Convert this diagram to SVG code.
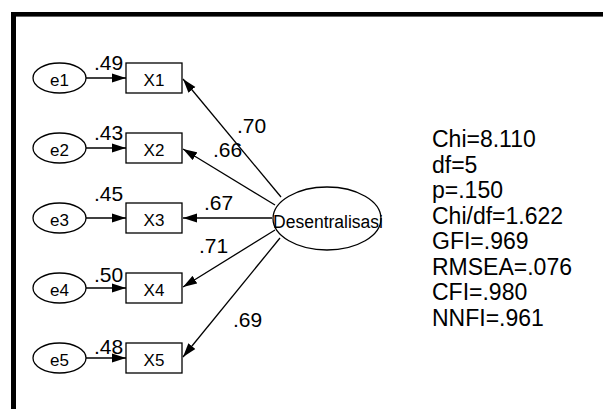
<svg xmlns="http://www.w3.org/2000/svg" width="603" height="409" viewBox="0 0 603 409">
<defs>
<style>
.fr{fill:#000}
.el{fill:#fff;stroke:#000;stroke-width:1.3}
.bx{fill:#fff;stroke:#000;stroke-width:1.3}
.t{font-family:"Liberation Sans",Arial,sans-serif;fill:#000}
.et{font-size:17px;text-anchor:middle}
.xt{font-size:17px;text-anchor:middle}
.lb{font-size:21px}
.st{font-size:23px}
.cn{stroke:#000;stroke-width:1.3;fill:none;marker-end:url(#ah)}
</style>
<marker id="ah" markerUnits="userSpaceOnUse" markerWidth="15" markerHeight="10" refX="14" refY="5" orient="auto">
<path d="M0,0.5 L14,5 L0,9.5 z" fill="#000"/>
</marker>
</defs>
<rect width="603" height="409" fill="#fff"/>
<g id="frame">
<rect class="fr" x="11" y="12" width="592" height="4.6"/>
<rect class="fr" x="11" y="12" width="5" height="397"/>
</g>
<g id="connectors">
<line class="cn" x1="86" y1="78" x2="126" y2="78"/>
<line class="cn" x1="86" y1="148" x2="126" y2="148"/>
<line class="cn" x1="86" y1="218" x2="126" y2="218"/>
<line class="cn" x1="86" y1="288" x2="126" y2="288"/>
<line class="cn" x1="86" y1="358" x2="126" y2="358"/>
<line class="cn" x1="281" y1="197" x2="183" y2="79"/>
<line class="cn" x1="275" y1="205" x2="183" y2="149"/>
<line class="cn" x1="272" y1="218" x2="183" y2="218"/>
<line class="cn" x1="275" y1="230" x2="183" y2="287"/>
<line class="cn" x1="280" y1="238" x2="183" y2="357"/>
<text class="t lb" x="94" y="70">.49</text>
<text class="t lb" x="94" y="140">.43</text>
<text class="t lb" x="94" y="201">.45</text>
<text class="t lb" x="94" y="282">.50</text>
<text class="t lb" x="94" y="354">.48</text>
<text class="t lb" x="237" y="133">.70</text>
<text class="t lb" x="213" y="157">.66</text>
<text class="t lb" x="204" y="210">.67</text>
<text class="t lb" x="199" y="253">.71</text>
<text class="t lb" x="233" y="327">.69</text>
</g>
<g id="e1"><ellipse class="el" cx="59.5" cy="78" rx="26.5" ry="15"/><text class="t et" x="59.5" y="86">e1</text></g>
<g id="e2"><ellipse class="el" cx="59.5" cy="148" rx="26.5" ry="15"/><text class="t et" x="59.5" y="156">e2</text></g>
<g id="e3"><ellipse class="el" cx="59.5" cy="218" rx="26.5" ry="15"/><text class="t et" x="59.5" y="226">e3</text></g>
<g id="e4"><ellipse class="el" cx="59.5" cy="288" rx="26.5" ry="15"/><text class="t et" x="59.5" y="296">e4</text></g>
<g id="e5"><ellipse class="el" cx="59.5" cy="358" rx="26.5" ry="15"/><text class="t et" x="59.5" y="366">e5</text></g>
<g id="X1"><rect class="bx" x="126" y="63" width="56" height="30"/><text class="t xt" x="154" y="86">X1</text></g>
<g id="X2"><rect class="bx" x="126" y="133" width="56" height="30"/><text class="t xt" x="154" y="156">X2</text></g>
<g id="X3"><rect class="bx" x="126" y="203" width="56" height="30"/><text class="t xt" x="154" y="226">X3</text></g>
<g id="X4"><rect class="bx" x="126" y="273" width="56" height="30"/><text class="t xt" x="154" y="296">X4</text></g>
<g id="X5"><rect class="bx" x="126" y="343" width="56" height="30"/><text class="t xt" x="154" y="366">X5</text></g>
<g id="Desentralisasi">
<ellipse class="el" cx="327" cy="218.5" rx="54" ry="31.5"/>
<text class="t" x="273" y="228" font-size="18" textLength="110" lengthAdjust="spacingAndGlyphs">Desentralisasi</text>
</g>
<g id="fit">
<text class="t st" x="432" y="147">Chi=8.110</text>
<text class="t st" x="432" y="172.5">df=5</text>
<text class="t st" x="432" y="198">p=.150</text>
<text class="t st" x="432" y="223.5">Chi/df=1.622</text>
<text class="t st" x="432" y="249">GFI=.969</text>
<text class="t st" x="432" y="274.5">RMSEA=.076</text>
<text class="t st" x="432" y="300">CFI=.980</text>
<text class="t st" x="432" y="325.5">NNFI=.961</text>
</g>
</svg>
